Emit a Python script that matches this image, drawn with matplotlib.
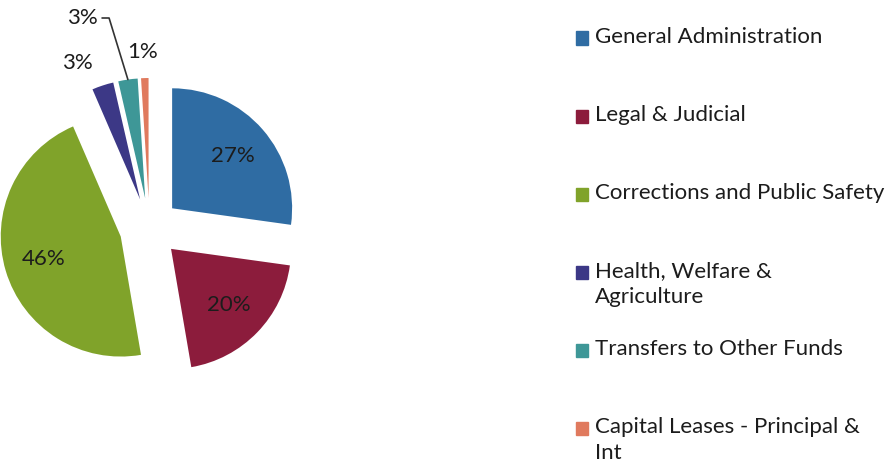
import numpy as np
import matplotlib.pyplot as plt
from matplotlib.patches import Rectangle

# data
categories = ["General Administration", "Legal & Judicial",
              "Corrections and Public Safety", "Health, Welfare &\nAgriculture",
              "Transfers to Other Funds", "Capital Leases - Principal &\nInt"]
shares = [27.2, 20.1, 46.2, 2.9, 2.6, 1.0]
colors = ["#2f6ca3", "#8c1c3c", "#80a32a", "#3c3886", "#3e9797", "#e07a5e"]

plt.rcParams['font.family'] = ['Lato', 'DejaVu Sans']
txt_col = "#1c1c1c"

fig = plt.figure(figsize=(8.88, 4.68), dpi=100)
# 120 px per data unit, pie centre at (149.5, 228) px from top-left
ax = fig.add_axes([0, 0, 560 / 888, 1])

wedges, texts, pcts = ax.pie(shares, colors=colors, startangle=90, counterclock=False,
                             explode=[0.25] * len(shares), autopct='%.0f%%',
                             pctdistance=0.67, textprops=dict(fontsize=16, color=txt_col))

ax.set_xlim(-149.5 / 120, (560 - 149.5) / 120)
ax.set_ylim(-(468 - 228) / 120, 228 / 120)
ax.set_aspect('equal')
ax.axis('off')

# small slices get their labels outside
pcts[3].set_position((-0.60, 1.375))
pcts[5].set_position((-0.055, 1.467))
pcts[4].set_visible(False)
w = wedges[4]
mid = np.deg2rad((w.theta1 + w.theta2) / 2)
cx, cy = w.center
tip = (cx + np.cos(mid) * w.r, cy + np.sin(mid) * w.r)
ax.annotate(pcts[4].get_text(), xy=tip, xytext=(-0.43, 1.75), ha='right', va='center',
            fontsize=16, color=txt_col,
            arrowprops=dict(arrowstyle='-', color='#333333', lw=1.2, shrinkA=1, shrinkB=0,
                            relpos=(1, 0.5),
                            connectionstyle='angle,angleA=0,angleB=107,rad=0'))

# legend drawn by hand, square lines up with first text line
for i, (lab, c) in enumerate(zip(categories, colors)):
    y = 1 - (38 + 78 * i) / 468
    fig.patches.append(Rectangle((576 / 888, y - 6.5 / 468), 12 / 888, 13 / 468,
                                 transform=fig.transFigure, color=c))
    fig.text(595 / 888, y + 11 / 468, lab, fontsize=16, color=txt_col, va='top',
             ha='left', linespacing=1.35)

fig.savefig("out.png", dpi=100)
